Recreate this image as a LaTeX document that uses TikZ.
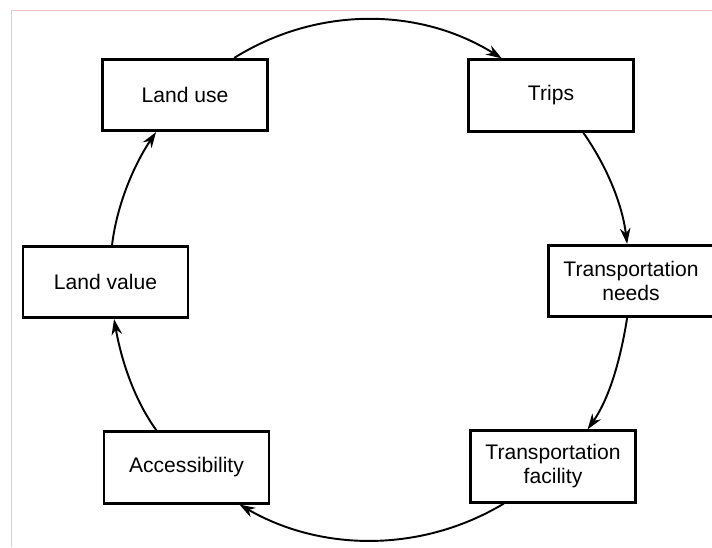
\documentclass[tikz,border=0pt]{standalone}
\usepackage{fontspec}
\setmainfont{Liberation Sans}
\usetikzlibrary{arrows.meta}
\definecolor{framepink}{RGB}{238,196,196}

\tikzset{
  box/.style={draw, line width=1.5pt, minimum width=3.3cm, minimum height=1.43cm,
    align=center, inner sep=2pt, font=\fontsize{12}{13.7}\selectfont},
  flow/.style={line width=1.1pt, -{Stealth[length=9pt,width=6pt]}}
}

\begin{document}
\begin{tikzpicture}
\useasboundingbox (0,0) rectangle (14.24,10.94);

% frame of the page
\draw[framepink, line width=0.5pt] (0.22,0) -- (0.22,10.74) -- (14.24,10.74);

\node[box] (landuse)   at (3.70,9.04)  {Land use};
\node[box] (trips)     at (11.02,9.03) {Trips};
\node[box] (needs)     at (12.62,5.32) {Transportation\\needs};
\node[box] (facility)  at (11.06,1.61) {Transportation\\facility};
\node[box] (access)    at (3.73,1.59)  {Accessibility};
\node[box] (landvalue) at (2.11,5.30)  {Land value};

% the cycle
\draw[flow] (landuse.37) to[out=32, in=148, looseness=0.93] (trips.143);
\draw[flow] (trips.-49) to[out=-55, in=97, looseness=0.87] (needs.96);
\draw[flow] (needs.-96) to[out=-99, in=55, looseness=0.85] (facility.47);
\draw[flow] (facility.217) to[out=-149, in=-30, looseness=0.92] (access.-35);
\draw[flow] (access.129) to[out=126, in=-80, looseness=0.85] (landvalue.-77);
\draw[flow] (landvalue.80) to[out=83, in=-124, looseness=0.85] (landuse.232);
\end{tikzpicture}
\end{document}
